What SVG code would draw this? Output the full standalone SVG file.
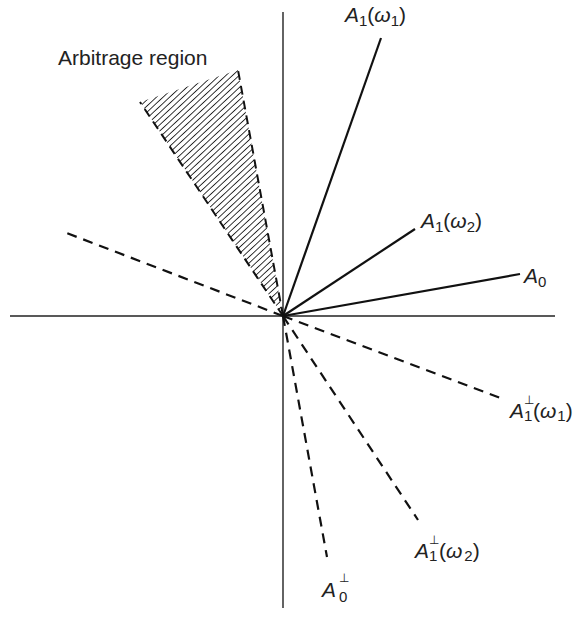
<svg xmlns="http://www.w3.org/2000/svg" width="574" height="619" viewBox="0 0 574 619">
<style>
.axis{stroke:#222;stroke-width:1.4;fill:none}
.solid{stroke:#111;stroke-width:2.2;fill:none}
.dash{stroke:#111;stroke-width:2.2;fill:none;stroke-dasharray:10 7}
.bdash{stroke:#111;stroke-width:2;fill:none;stroke-dasharray:9 6}
text{font-family:"Liberation Sans",Arial,sans-serif;fill:#222;font-size:21px}
.it{font-style:italic}
.sub{font-size:15px}
.sup{font-size:12px;font-family:"DejaVu Sans",sans-serif}
</style>
<defs>
<pattern id="hatch" width="4.5" height="4.5" patternUnits="userSpaceOnUse" patternTransform="rotate(-43)">
<line x1="0" y1="2.25" x2="4.5" y2="2.25" stroke="#222" stroke-width="0.9"/>
</pattern>
</defs>
<g id="axes">
<line class="axis" x1="283" y1="12" x2="283" y2="608"/>
<line class="axis" x1="10" y1="316" x2="555" y2="316"/>
</g>
<g id="arbitrage-region">
<polygon points="283,316 140,102 238,70" fill="url(#hatch)" stroke="none"/>
<line class="bdash" x1="283" y1="316" x2="140" y2="102"/>
<line class="bdash" x1="283" y1="316" x2="238" y2="70"/>
<text x="58" y="65">Arbitrage region</text>
</g>
<g id="connectors">
<line class="solid" x1="283" y1="316" x2="381" y2="38"/>
<line class="solid" x1="283" y1="316" x2="415" y2="229"/>
<line class="solid" x1="283" y1="316" x2="520" y2="274"/>
<line class="dash" x1="283" y1="316" x2="64" y2="232"/>
<line class="dash" x1="283" y1="316" x2="503" y2="399"/>
<line class="dash" x1="283" y1="316" x2="418" y2="520"/>
<line class="dash" x1="283" y1="316" x2="327" y2="557"/>
</g>
<g id="label-A1w1">
<text x="345" y="22"><tspan class="it">A</tspan><tspan class="sub" dy="4">1</tspan><tspan dy="-4">(</tspan><tspan class="it">ω</tspan><tspan class="sub" dy="4">1</tspan><tspan dy="-4">)</tspan></text>
</g>
<g id="label-A1w2">
<text x="421" y="228"><tspan class="it">A</tspan><tspan class="sub" dy="4">1</tspan><tspan dy="-4">(</tspan><tspan class="it">ω</tspan><tspan class="sub" dy="4">2</tspan><tspan dy="-4">)</tspan></text>
</g>
<g id="label-A0">
<text x="524" y="283"><tspan class="it">A</tspan><tspan class="sub" dy="4">0</tspan></text>
</g>
<g id="label-A1perp-w1">
<text><tspan x="510" y="418" class="it">A</tspan><tspan x="524" y="421" class="sub">1</tspan><tspan x="524" y="404" class="sup">⊥</tspan><tspan x="533" y="418">(</tspan><tspan class="it">ω</tspan><tspan class="sub" dx="1" y="421">1</tspan><tspan y="418">)</tspan></text>
</g>
<g id="label-A1perp-w2">
<text><tspan x="415" y="558" class="it">A</tspan><tspan x="429" y="561" class="sub">1</tspan><tspan x="429" y="544" class="sup">⊥</tspan><tspan x="439" y="558">(</tspan><tspan class="it">ω</tspan><tspan class="sub" dx="2" y="561">2</tspan><tspan y="558">)</tspan></text>
</g>
<g id="label-A0perp">
<text><tspan x="322" y="597" class="it">A</tspan><tspan x="339" y="602" class="sub">0</tspan><tspan x="339" y="582" class="sup">⊥</tspan></text>
</g>
</svg>
